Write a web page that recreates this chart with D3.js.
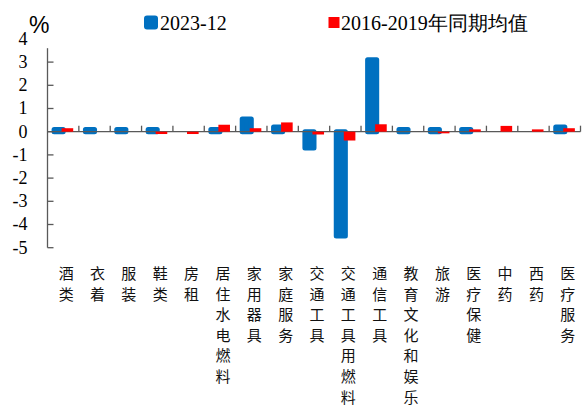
<!DOCTYPE html>
<html><head><meta charset="utf-8">
<script src="https://cdn.jsdelivr.net/npm/d3@7/dist/d3.min.js"></script>
<style>body{margin:0;background:#fff}svg{display:block}</style>
</head><body>
<script>
const categories = ["酒类","衣着","服装","鞋类","房租","居住水电燃料","家用器具","家庭服务","交通工具","交通工具用燃料","通信工具","教育文化和娱乐","旅游","医疗保健","中药","西药","医疗服务"];
const series2023 = [0.1,0.1,0.1,0.1,null,0.1,0.55,0.2,-0.7,-4.5,3.1,0.1,0.1,0.1,null,null,0.2];
const seriesAvg = [0.15,0,0,-0.1,-0.1,0.3,0.15,0.4,-0.12,-0.38,0.32,0,-0.07,0.1,0.25,0.1,0.15];
const yTicks = [4,3,2,1,0,-1,-2,-3,-4,-5];
const legendLabels = ["2023-12","2016-2019年同期均值"];
const colors = ["#0070C0","#FF0000"];

const W = 585, H = 409;
const svg = d3.select("body").append("svg").attr("width", W).attr("height", H);
const serif = "'Liberation Serif','Times New Roman',serif";
const cjk = "'Noto Sans CJK SC',sans-serif";

const x = d3.scaleBand().domain(categories).range([47.5, 580.5]).padding(0);
const y = d3.scaleLinear().domain([-5, 4]).range([247.7, 38.9]);
const bw = x.bandwidth();

// bars: blue (rounded via stroke)
const blueStroke = 5;
svg.append("g").selectAll("rect").data(categories.map((c,i)=>({c, v: series2023[i]})).filter(d=>d.v!==null))
  .join("rect")
  .attr("x", d => x(d.c) + bw*0.21)
  .attr("width", bw*0.29)
  .attr("y", d => y(Math.max(0,d.v)))
  .attr("height", d => Math.abs(y(d.v)-y(0)))
  .attr("fill", colors[0]).attr("stroke", colors[0])
  .attr("stroke-width", blueStroke).attr("stroke-linejoin","round");

// axes
const gx = svg.append("g");
gx.append("line").attr("x1", x.range()[0]).attr("x2", x.range()[1])
  .attr("y1", y(0)).attr("y2", y(0)).attr("stroke", "#595959").attr("stroke-width", 1.3);

// red bars on top
svg.append("g").selectAll("rect").data(categories.map((c,i)=>({c, v: seriesAvg[i]})))
  .join("rect")
  .attr("x", d => x(d.c) + bw*0.45)
  .attr("width", bw*0.37)
  .attr("y", d => y(Math.max(0,d.v)))
  .attr("height", d => Math.abs(y(d.v)-y(0)))
  .attr("fill", colors[1]);

// category ticks (upward)
const bounds = d3.range(categories.length+1).map(k => x.range()[0] + k*bw);
gx.selectAll("line.t").data(bounds.slice(1)).join("line").attr("class","t")
  .attr("x1", d=>d).attr("x2", d=>d).attr("y1", y(0)).attr("y2", y(0)-6)
  .attr("stroke", "#595959").attr("stroke-width", 1.3);

// y axis
const gy = svg.append("g");
gy.append("line").attr("x1", x.range()[0]).attr("x2", x.range()[0])
  .attr("y1", y(3.6)).attr("y2", y(-5)).attr("stroke", "#595959").attr("stroke-width", 1.3);
gy.selectAll("line.t").data(yTicks.filter(t=>t!==4)).join("line").attr("class","t")
  .attr("x1", x.range()[0]).attr("x2", x.range()[0]+6)
  .attr("y1", d=>y(d)).attr("y2", d=>y(d)).attr("stroke", "#595959").attr("stroke-width", 1.3);
gy.selectAll("text").data(yTicks).join("text")
  .attr("x", 27.5).attr("y", d=>y(d)).attr("dy","0.33em")
  .attr("text-anchor","end").attr("font-family", serif).attr("font-size", 18).attr("fill","#000")
  .text(d=>d);

svg.append("text").attr("x", 29).attr("y", 33).attr("font-family","'Liberation Sans',Arial,sans-serif")
  .attr("font-size", 23).text("%");

// category labels vertical
const lab = svg.append("g");
categories.forEach(c => {
  const t = lab.append("text").attr("font-family", cjk).attr("font-size", 15).attr("fill","#111")
    .attr("text-anchor","middle");
  [...c].forEach((ch,i) => {
    t.append("tspan").attr("x", x(c)+bw/2+3).attr("y", 279 + i*20.6).text(ch);
  });
});

// legend
const lg = svg.append("g");
lg.append("rect").attr("x", 144).attr("y", 15.5).attr("width", 14).attr("height", 14)
  .attr("rx", 3).attr("fill", colors[0]);
lg.append("text").attr("x", 160).attr("y", 30).attr("font-family", serif).attr("font-size", 20)
  .text(legendLabels[0]);
lg.append("rect").attr("x", 328.5).attr("y", 17).attr("width", 11).attr("height", 11)
  .attr("fill", colors[1]);
lg.append("text").attr("x", 341).attr("y", 30).attr("font-family", serif).attr("font-size", 20)
  .text(legendLabels[1]);
</script>
</body></html>
